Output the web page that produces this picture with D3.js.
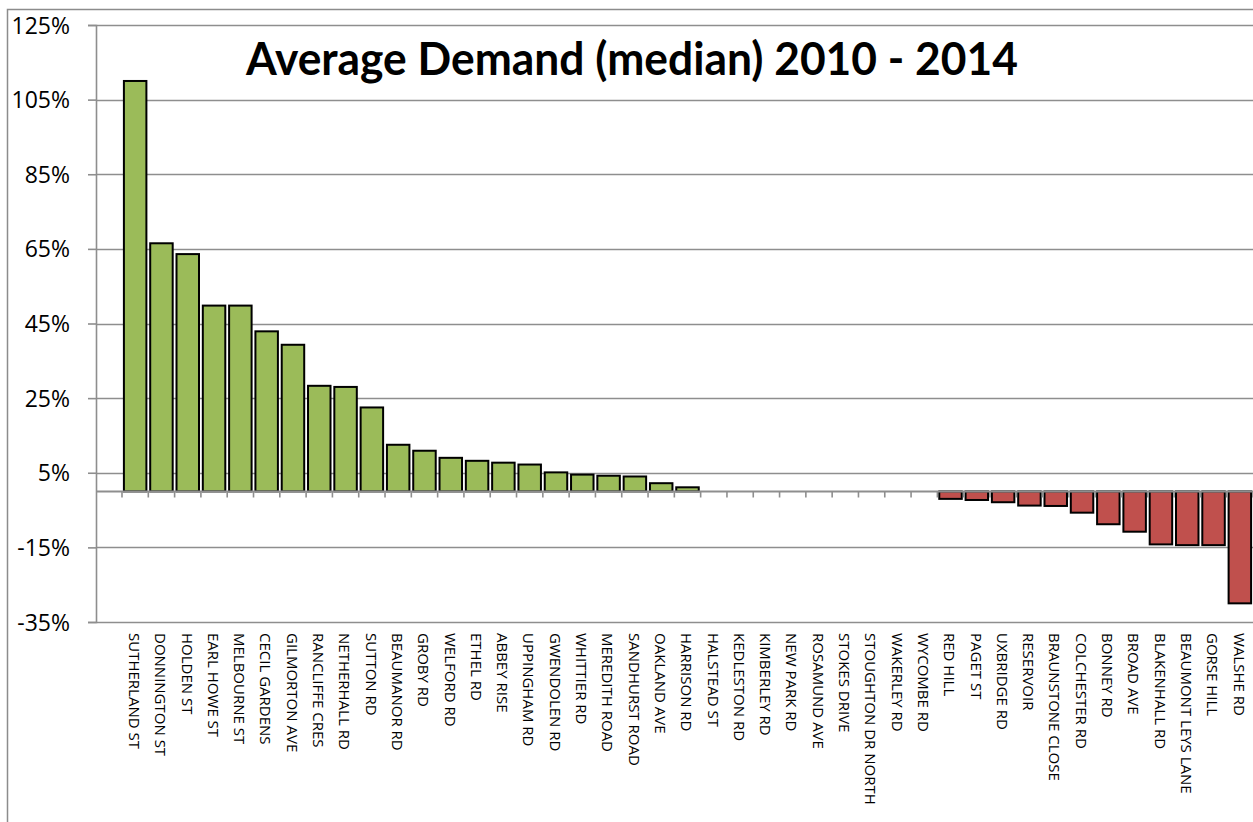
<!DOCTYPE html>
<html>
<head>
<meta charset="utf-8">
<script src="https://cdn.jsdelivr.net/npm/d3@7/dist/d3.min.js"></script>
<style>
  html, body { margin: 0; padding: 0; background: #fff; }
  svg { display: block; }
  text { font-family: "Open Sans", sans-serif; }
  text.title { font-family: Lato, "Open Sans", sans-serif; }
</style>
</head>
<body>
<svg id="chart" width="1253" height="822"></svg>
<script>
// Streets and their average demand change (median), 2010 - 2014, in percent
const categories = [
  "SUTHERLAND ST", "DONNINGTON ST", "HOLDEN ST", "EARL HOWE ST", "MELBOURNE ST",
  "CECIL GARDENS", "GILMORTON AVE", "RANCLIFFE CRES", "NETHERHALL RD", "SUTTON RD",
  "BEAUMANOR RD", "GROBY RD", "WELFORD RD", "ETHEL RD", "ABBEY RISE",
  "UPPINGHAM RD", "GWENDOLEN RD", "WHITTIER RD", "MEREDITH ROAD", "SANDHURST ROAD",
  "OAKLAND AVE", "HARRISON RD", "HALSTEAD ST", "KEDLESTON RD", "KIMBERLEY RD",
  "NEW PARK RD", "ROSAMUND AVE", "STOKES DRIVE", "STOUGHTON DR NORTH", "WAKERLEY RD",
  "WYCOMBE RD", "RED HILL", "PAGET ST", "UXBRIDGE RD", "RESERVOIR",
  "BRAUNSTONE CLOSE", "COLCHESTER RD", "BONNEY RD", "BROAD AVE", "BLAKENHALL RD",
  "BEAUMONT LEYS LANE", "GORSE HILL", "WALSHE RD"
];
const demandChange = [
  110, 66.5, 63.6, 49.8, 49.8,
  42.9, 39.3, 28.3, 28.0, 22.5,
  12.5, 10.9, 9.0, 8.2, 7.7,
  7.2, 5.1, 4.5, 4.2, 4.0,
  2.2, 1.1, 0, 0, 0,
  0, 0, 0, 0, 0,
  0, -2.0, -2.3, -2.9, -3.8,
  -3.9, -5.7, -8.8, -10.8, -14.2,
  -14.4, -14.4, -30.0
];
const yTicks = [-35, -15, 5, 25, 45, 65, 85, 105, 125];
const title = "Average Demand (median) 2010 - 2014";

const rows = categories.map((c, i) => ({ name: c, value: demandChange[i] }));

const svg = d3.select("#chart");
const plot = { left: 96, firstCat: 122, right: 1253, top: 25, bottom: 622 };

const y = d3.scaleLinear().domain([-35, 125]).range([plot.bottom, plot.top]);
const x = d3.scaleBand()
  .domain(categories)
  .range([plot.firstCat, plot.right])
  .paddingInner(0.145)
  .paddingOuter(0.0725);

// outer chart frame (left and top edges)
svg.append("path")
  .attr("d", "M7.5,822 L7.5,9.5 L1253,9.5")
  .attr("fill", "none")
  .attr("stroke", "#8c8c8c")
  .attr("stroke-width", 1.5);

// horizontal gridlines
svg.append("g")
  .selectAll("line")
  .data(yTicks)
  .join("line")
  .attr("x1", plot.left)
  .attr("x2", plot.right)
  .attr("y1", d => Math.round(y(d)) + 0.5)
  .attr("y2", d => Math.round(y(d)) + 0.5)
  .attr("stroke", "#8e8e8e")
  .attr("stroke-width", 1.6);

// y axis
const yAxis = svg.append("g")
  .attr("transform", `translate(${plot.left},0)`)
  .call(d3.axisLeft(y).tickValues(yTicks).tickSize(8).tickPadding(18).tickFormat(d => d + "%"));
yAxis.select(".domain").attr("stroke", "#8e8e8e").attr("stroke-width", 1.6);
yAxis.selectAll(".tick line").attr("stroke", "#8e8e8e").attr("stroke-width", 1.6);
yAxis.selectAll(".tick text")
  .attr("fill", "#000")
  .style("font-size", "23px")
  .attr("dy", "0.35em");

// bars
svg.append("g")
  .selectAll("rect")
  .data(rows)
  .join("rect")
  .attr("x", d => x(d.name))
  .attr("width", x.bandwidth())
  .attr("y", d => y(Math.max(0, d.value)))
  .attr("height", d => Math.abs(y(d.value) - y(0)))
  .attr("fill", d => d.value >= 0 ? "#9BBB59" : "#C0504D")
  .attr("stroke", d => d.value === 0 ? "none" : "#000")
  .attr("stroke-width", 2);

// category axis along zero
const y0 = Math.round(y(0)) + 0.5;
svg.append("line")
  .attr("x1", plot.left).attr("x2", plot.right)
  .attr("y1", y0).attr("y2", y0)
  .attr("stroke", "#8e8e8e").attr("stroke-width", 2);

const step = x.step();
const boundaries = d3.range(categories.length + 1).map(i => plot.firstCat + i * step);
svg.append("g")
  .selectAll("line")
  .data(boundaries)
  .join("line")
  .attr("x1", d => d).attr("x2", d => d)
  .attr("y1", y0).attr("y2", y0 + 6)
  .attr("stroke", "#8e8e8e").attr("stroke-width", 1.6);

// rotated category labels
svg.append("g")
  .selectAll("text")
  .data(categories)
  .join("text")
  .attr("transform", d => `translate(${x(d) + x.bandwidth() / 2 - 1},633) rotate(90)`)
  .attr("dy", "0.35em")
  .attr("text-anchor", "start")
  .style("font-size", "15px")
  .attr("fill", "#000")
  .text(d => d);

// title
svg.append("text")
  .attr("class", "title")
  .attr("x", 246)
  .attr("y", 75)
  .attr("textLength", 772)
  .attr("lengthAdjust", "spacingAndGlyphs")
  .style("font-size", "45px")
  .style("font-weight", "bold")
  .attr("fill", "#000")
  .text(title);
</script>
</body>
</html>
